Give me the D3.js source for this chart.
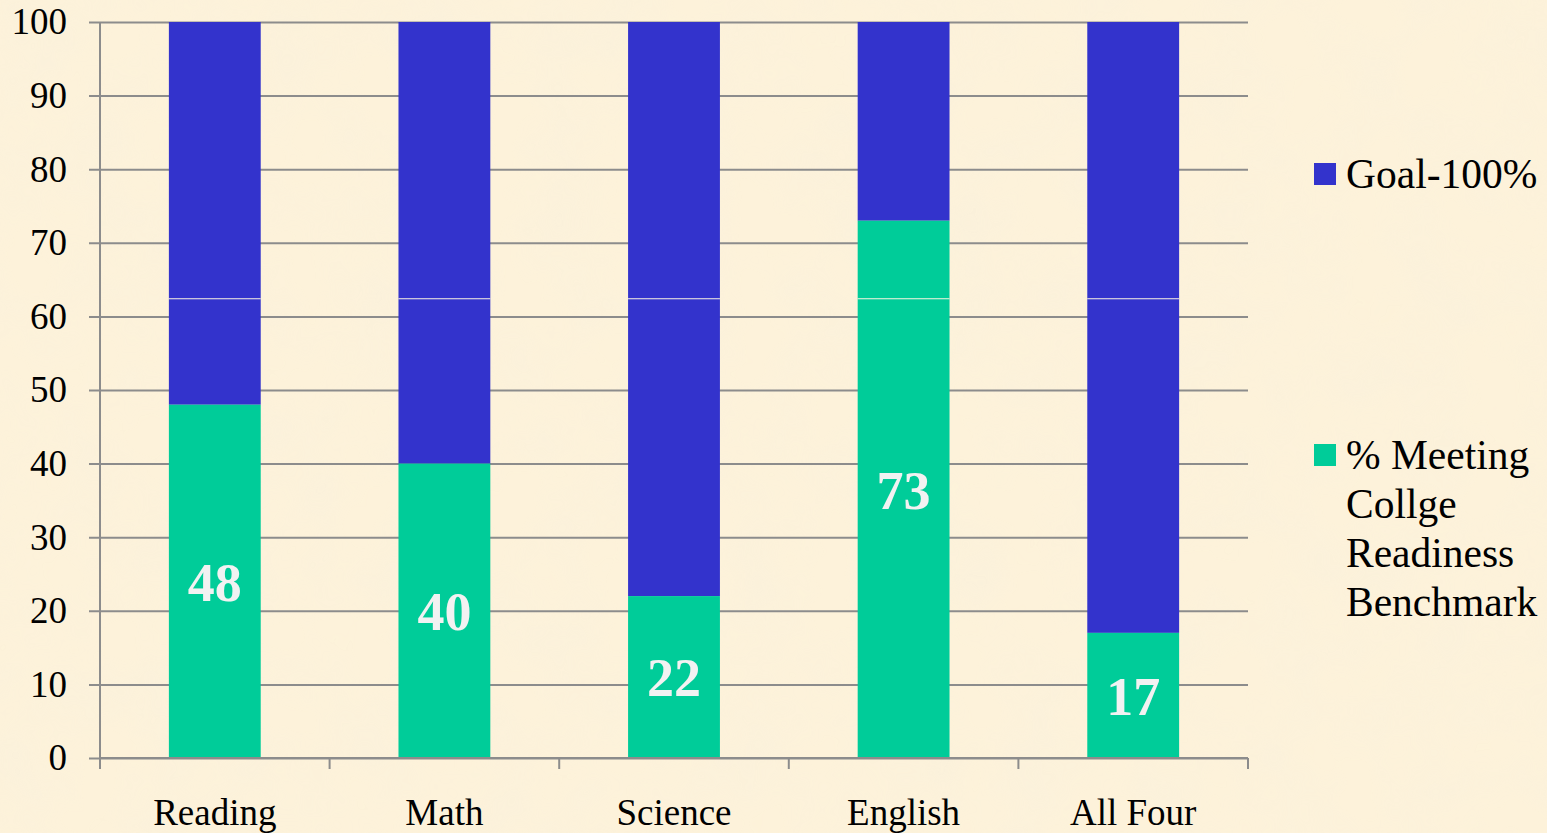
<!DOCTYPE html>
<html>
<head>
<meta charset="utf-8">
<script src="https://d3js.org/d3.v7.min.js"></script>
<style>
  body { margin: 0; background: #fcf0d8; overflow: hidden; }
  text { font-family: "Liberation Serif", "Times New Roman", serif; }
</style>
</head>
<body>
<script>
// chart data
const categories = ["Reading", "Math", "Science", "English", "All Four"]
const meeting = [48, 40, 22, 73, 17]
const goalTotal = 100
const yTicks = [0, 10, 20, 30, 40, 50, 60, 70, 80, 90, 100]
const legendItems = [
  { label: ["Goal-100%"], color: "#3333cc" },
  { label: ["% Meeting", "Collge", "Readiness", "Benchmark"], color: "#00cc99" }
]

const W = 1547, H = 833
const margin = { left: 100, right: 299, top: 22, bottom: 75 }

const svg = d3.select("body").append("svg")
  .attr("width", W)
  .attr("height", H)

// parchment background with a soft mottled texture
const defs = svg.append("defs")
const filt = defs.append("filter").attr("id", "paper")
  .attr("x", 0).attr("y", 0).attr("width", "100%").attr("height", "100%")
filt.append("feTurbulence")
  .attr("type", "fractalNoise")
  .attr("baseFrequency", 0.015)
  .attr("numOctaves", 3)
  .attr("seed", 4)
filt.append("feColorMatrix")
  .attr("type", "matrix")
  .attr("values", "0 0 0 0 0.94  0 0 0 0 0.87  0 0 0 0 0.72  0 0 0 -1.2 0.8")

svg.append("rect").attr("width", W).attr("height", H).attr("fill", "#fdf2da")
svg.append("rect").attr("width", W).attr("height", H).attr("filter", "url(#paper)").attr("opacity", 0.6)

const x = d3.scaleBand()
  .domain(categories)
  .range([margin.left, W - margin.right])
  .paddingInner(0.6)
  .paddingOuter(0.3)

const y = d3.scaleLinear()
  .domain([0, 100])
  .range([H - margin.bottom, margin.top])

const gridColor = "#8c8c8c"

// horizontal grid + y axis
const yAxis = d3.axisLeft(y)
  .tickValues(yTicks)
  .tickSize(-(W - margin.right - margin.left))
  .tickPadding(33)
const gy = svg.append("g")
  .attr("transform", `translate(${margin.left},0)`)
  .call(yAxis)
gy.select(".domain").remove()
gy.selectAll(".tick line")
  .attr("stroke", gridColor)
  .attr("stroke-width", 2)
  .attr("x1", -11)
gy.selectAll(".tick text")
  .attr("font-size", 37)
  .attr("fill", "#000")

svg.append("line")
  .attr("x1", margin.left).attr("x2", margin.left)
  .attr("y1", y(100)).attr("y2", y(0))
  .attr("stroke", gridColor).attr("stroke-width", 2)

// stacked bars
const rows = categories.map((c, i) => ({ cat: c, meet: meeting[i], goal: goalTotal - meeting[i] }))

svg.append("g").selectAll("rect")
  .data(rows)
  .join("rect")
  .attr("x", d => x(d.cat))
  .attr("width", x.bandwidth())
  .attr("y", d => y(d.meet + d.goal))
  .attr("height", d => y(d.meet) - y(d.meet + d.goal))
  .attr("fill", legendItems[0].color)

svg.append("g").selectAll("rect")
  .data(rows)
  .join("rect")
  .attr("x", d => x(d.cat))
  .attr("width", x.bandwidth())
  .attr("y", d => y(d.meet))
  .attr("height", d => y(0) - y(d.meet))
  .attr("fill", legendItems[1].color)

// faint light seam that crosses every bar
svg.append("g").selectAll("line")
  .data(rows)
  .join("line")
  .attr("x1", d => x(d.cat))
  .attr("x2", d => x(d.cat) + x.bandwidth())
  .attr("y1", y(62.4)).attr("y2", y(62.4))
  .attr("stroke", "#fdf6e2")
  .attr("stroke-width", 1.2)

// value labels
svg.append("g").selectAll("text")
  .data(rows)
  .join("text")
  .attr("x", d => x(d.cat) + x.bandwidth() / 2)
  .attr("y", d => y(d.meet / 2))
  .attr("dy", "0.36em")
  .attr("text-anchor", "middle")
  .attr("font-size", 54)
  .attr("font-weight", "bold")
  .attr("fill", "#f2f2f2")
  .text(d => d.meet)

// x axis
const xEdges = d3.range(categories.length + 1).map(i => margin.left + i * x.step())
svg.append("line")
  .attr("x1", margin.left).attr("x2", W - margin.right)
  .attr("y1", y(0)).attr("y2", y(0))
  .attr("stroke", gridColor).attr("stroke-width", 2)
svg.append("g").selectAll("line")
  .data(xEdges)
  .join("line")
  .attr("x1", d => d).attr("x2", d => d)
  .attr("y1", y(0)).attr("y2", y(0) + 11)
  .attr("stroke", gridColor).attr("stroke-width", 2)
svg.append("g").selectAll("text")
  .data(categories)
  .join("text")
  .attr("x", d => x(d) + x.bandwidth() / 2)
  .attr("y", 825)
  .attr("text-anchor", "middle")
  .attr("font-size", 37)
  .attr("fill", "#000")
  .text(d => d)

// legend
const legendY = [163, 444]
const lg = svg.append("g")
legendItems.forEach((it, i) => {
  lg.append("rect")
    .attr("x", 1314).attr("y", legendY[i])
    .attr("width", 22).attr("height", 22)
    .attr("fill", it.color)
  const t = lg.append("text")
    .attr("x", 1346)
    .attr("y", legendY[i] + 25)
    .attr("font-size", 41.5)
    .attr("fill", "#000")
  it.label.forEach((ln, j) => {
    t.append("tspan").attr("x", 1346).attr("dy", j === 0 ? 0 : 49).text(ln)
  })
})
</script>
</body>
</html>
